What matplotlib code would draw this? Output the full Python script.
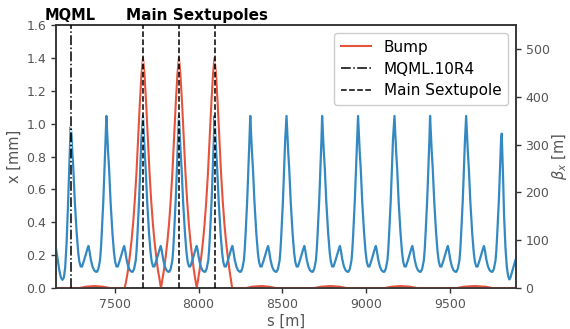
import matplotlib
matplotlib.use("Agg")
import matplotlib.pyplot as plt
import numpy as np

# ---------------- data ----------------
# beta_x lattice: peak positions [m] and peak heights [m]
peak_s = [7238, 7451, 7669, 7883, 8095, 8308, 8524, 8736, 8950, 9167, 9379, 9594, 9806]
peak_beta = [337, 360, 360, 360, 360, 360, 360, 360, 360, 360, 360, 360, 323]

# shape of one regular cell after a peak (offset from peak [m], beta [m])
cell_ds = [5, 10, 16, 25, 36, 45, 52, 60, 68, 80, 90, 100, 106, 112, 120, 130, 140,
           150, 157, 165, 175, 180, 185, 195, 203, 208]
cell_beta = [320, 285, 250, 180, 115, 75, 55, 45, 45, 58, 70, 82, 88, 78, 60, 45, 37,
             34, 34, 40, 58, 80, 112, 185, 260, 310]

# segment before the MQML peak (left edge)
start_s = [7150, 7160, 7170, 7180, 7189, 7198, 7206, 7214, 7222, 7230]
start_beta = [85, 62, 38, 22, 17, 22, 45, 95, 170, 255]

# segment after the last peak (right edge)
end_ds = [8, 14, 22, 30, 38, 45, 52, 60, 70, 81]
end_beta = [230, 150, 85, 45, 25, 18, 22, 32, 45, 58]

# closed orbit bump x [mm]
bump_s = [7150, 7290, 7330, 7380, 7430, 7470, 7560,
          7570, 7580, 7590, 7600, 7610, 7620, 7630, 7640, 7650, 7660, 7669,
          7678, 7688, 7698, 7708, 7718, 7728, 7738, 7748, 7758, 7768, 7776,
          7784, 7794, 7804, 7814, 7824, 7834, 7844, 7854, 7864, 7874, 7883,
          7892, 7902, 7912, 7922, 7932, 7942, 7952, 7962, 7972, 7981, 7989,
          7997, 8006, 8016, 8026, 8036, 8046, 8056, 8066, 8076, 8086, 8095,
          8104, 8114, 8124, 8134, 8144, 8154, 8164, 8174, 8184, 8193, 8200,
          8285, 8320, 8375, 8420, 8460,
          8690, 8730, 8785, 8840, 8880,
          9110, 9150, 9205, 9260, 9300,
          9540, 9580, 9645, 9710, 9750, 9890]
bump_x = [0, 0, 0.008, 0.012, 0.008, 0, 0,
          0.05, 0.11, 0.19, 0.28, 0.39, 0.53, 0.70, 0.91, 1.12, 1.30, 1.40,
          1.30, 1.12, 0.91, 0.70, 0.53, 0.39, 0.28, 0.19, 0.11, 0.05, 0,
          0.05, 0.11, 0.19, 0.28, 0.39, 0.53, 0.70, 0.91, 1.12, 1.30, 1.40,
          1.30, 1.12, 0.91, 0.70, 0.53, 0.39, 0.28, 0.19, 0.11, 0.05, 0,
          0.05, 0.11, 0.19, 0.28, 0.39, 0.53, 0.70, 0.91, 1.12, 1.30, 1.40,
          1.30, 1.12, 0.91, 0.70, 0.53, 0.39, 0.28, 0.19, 0.11, 0.05, 0,
          0, 0.008, 0.012, 0.008, 0,
          0, 0.008, 0.012, 0.008, 0,
          0, 0.008, 0.012, 0.008, 0,
          0, 0.008, 0.012, 0.008, 0, 0]

mqml_s = 7238
sext_s = [7669, 7883, 8095]

x_ticks = [7500, 8000, 8500, 9000, 9500]
y_ticks = [0.0, 0.2, 0.4, 0.6, 0.8, 1.0, 1.2, 1.4, 1.6]
beta_ticks = [0, 100, 200, 300, 400, 500]

# ---------------- assemble beta series from read points ----------------
beta_s = list(start_s)
beta_v = list(start_beta)
for i in range(len(peak_s) - 1):
    beta_s.append(peak_s[i]); beta_v.append(peak_beta[i])
    for d, b in zip(cell_ds, cell_beta):
        beta_s.append(peak_s[i] + d); beta_v.append(b)
beta_s.append(peak_s[-1]); beta_v.append(peak_beta[-1])
for d, b in zip(end_ds, end_beta):
    beta_s.append(peak_s[-1] + d); beta_v.append(b)

# ---------------- plot ----------------
blue = '#3389c2'
red = '#e5533c'
gray = '#555555'
spine_c = '#333333'

fig = plt.figure(figsize=(5.7, 3.29), dpi=100)
ax = fig.add_axes([0.098, 0.1246, 0.807, 0.799])
ax2 = ax.twinx()

ax.plot(bump_s, bump_x, color=red, lw=1.5, label='Bump', zorder=3)
ax2.plot(beta_s, beta_v, color=blue, lw=1.6, zorder=2)

l1 = ax2.axvline(mqml_s, color='black', ls='-.', lw=1.1, gapcolor='white', zorder=4,
                 label='MQML.10R4')
l2 = None
for s in sext_s:
    l2 = ax2.axvline(s, color='black', ls='--', lw=1.1, gapcolor='white', zorder=4,
                     label='Main Sextupole')

ax.set_xlim(7150, 9890)
ax.set_ylim(0, 1.6)
ax2.set_ylim(0, 550)
ax.set_xticks(x_ticks)
ax.set_yticks(y_ticks)
ax2.set_yticks(beta_ticks)

for a in (ax, ax2):
    a.tick_params(labelsize=9, colors=spine_c, labelcolor=gray, length=3.5, width=1)
    for sp in a.spines.values():
        sp.set_color(spine_c)
        sp.set_linewidth(1.1)

ax.set_xlabel('s [m]', fontsize=10.5, color=gray, labelpad=2)
ax.set_ylabel('x [mm]', fontsize=10.5, color=gray, labelpad=3)
ax2.set_ylabel(r'$\beta_x$ [m]', fontsize=10.5, color=gray, labelpad=0)

h_bump = ax.get_lines()[0]
ax2.legend([h_bump, l1, l2], ['Bump', 'MQML.10R4', 'Main Sextupole'],
           loc='upper right', fontsize=11, handlelength=2.0, borderpad=0.45,
           labelspacing=0.45, framealpha=1)

ax.text(mqml_s, 1.66, 'MQML', ha='center', va='center', fontsize=10.5,
        fontweight='bold', clip_on=False)
ax.text(7990, 1.66, 'Main Sextupoles', ha='center', va='center', fontsize=11,
        fontweight='bold', clip_on=False)

fig.savefig('out.png', dpi=100)
